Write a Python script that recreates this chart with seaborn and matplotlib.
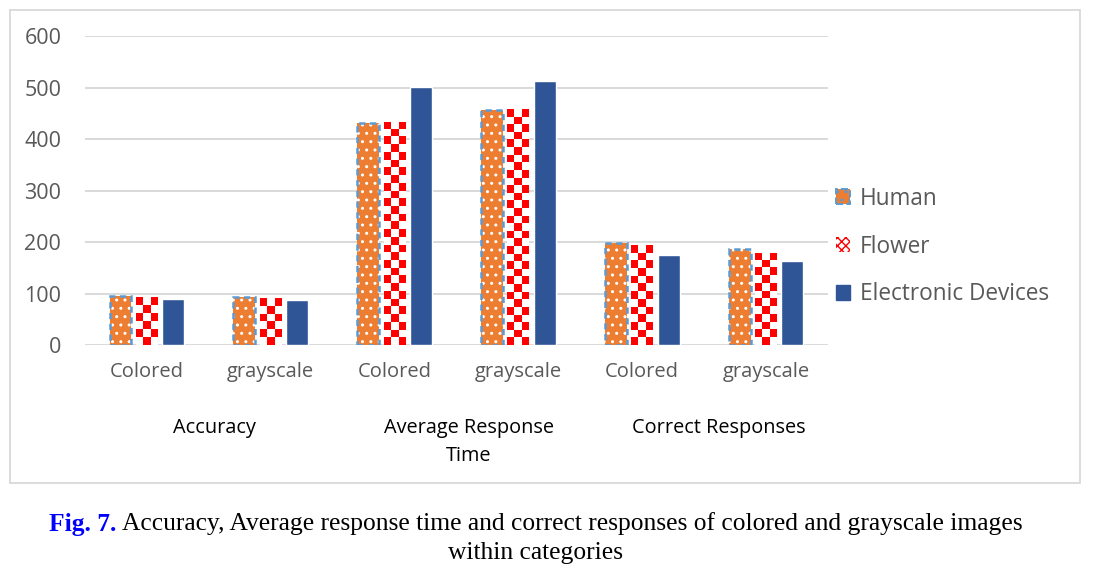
import numpy as np
import pandas as pd
import matplotlib
matplotlib.use("Agg")
import matplotlib.pyplot as plt
import matplotlib.transforms as mtransforms
from matplotlib.colors import ListedColormap
from matplotlib.patches import Rectangle, Patch
import seaborn as sns

# data
groups = ["Accuracy", "Average Response\nTime", "Correct Responses"]
modes = ["Colored", "grayscale"]
series = ["Human", "Flower", "Electronic Devices"]
human = [95, 93, 431, 456, 198, 186]
flower = [93, 91, 433, 458, 194, 179]
electronic = [89, 87, 501, 513, 175, 163]

ORANGE = "#ED7D31"
RED = "#FF0000"
NAVY = "#2F5597"
DASH_BLUE = "#5B9BD5"
GRID = "#D9D9D9"
TEXT = "#595959"

slots = [f"{g}|{m}" for g in groups for m in modes]
df = pd.DataFrame({
    "slot": slots * 3,
    "series": np.repeat(series, len(slots)),
    "value": human + flower + electronic,
})

sns.set_style("white")
plt.rcParams["font.family"] = ["Open Sans", "DejaVu Sans"]

fig = plt.figure(figsize=(10.95, 5.76), dpi=100)
ax = fig.add_axes([0.0776, 0.401, 0.6785, 0.5365])

sns.barplot(data=df, x="slot", y="value", hue="series", order=slots,
            hue_order=series, palette=[ORANGE, "white", NAVY], saturation=1,
            width=0.64, gap=0.17, legend=False, ax=ax, zorder=3)

ax.set_yticks(range(0, 601, 100))
ax.grid(axis="y", color=GRID, linewidth=1.4, zorder=0)
for s in ax.spines.values():
    s.set_visible(False)
ax.tick_params(axis="both", length=0, colors=TEXT)
ax.tick_params(axis="y", pad=17, labelsize=15.5)
ax.tick_params(axis="x", pad=12, labelsize=14.5)
ax.set_xticks(range(len(slots)))
ax.set_xticklabels(modes * len(groups))
ax.set_xlabel("")
ax.set_ylabel("")
ax.set_ylim(0, 600)
ax.set_xlim(-0.5, len(slots) - 0.5)

# textures: dotted orange with dashed outline, red/white checkerboard
human_bars, flower_bars = ax.containers[0], ax.containers[1]
for p in human_bars:
    p.set_edgecolor("white")
    p.set_linewidth(0)
    p.set_hatch("..")
    ax.add_patch(Rectangle(p.get_xy(), p.get_width(), p.get_height(),
                           fill=False, edgecolor=DASH_BLUE, linewidth=1.8,
                           linestyle=(0, (2.5, 1.8)), zorder=4))

checker = ListedColormap(["white", RED])
for p in flower_bars:
    p.set_linewidth(0)
    x0, y0 = p.get_xy()
    w, h = p.get_width(), p.get_height()
    (px0, py0), (px1, py1) = ax.transData.transform([(x0, y0), (x0 + w, y0 + h)])
    ncol = max(1, int(round((px1 - px0) / 7.5)))
    nrow = max(1, int(round((py1 - py0) / 7.6)))
    board = (np.indices((nrow, ncol)).sum(axis=0) + 1) % 2
    board = np.kron(board, np.ones((10, 10)))  # upsample so squares stay crisp
    im = ax.imshow(board, cmap=checker, vmin=0, vmax=1,
                   extent=[x0, x0 + w, y0, y0 + h], aspect="auto",
                   interpolation="nearest", origin="upper", zorder=3.5)
    im.set_clip_path(p)
ax.set_ylim(0, 600)
ax.set_xlim(-0.5, len(slots) - 0.5)

# group labels under the tick labels
trans = mtransforms.blended_transform_factory(ax.transData, fig.transFigure)
offsets = [0.55, 0.6, 0.62]
for i, g in enumerate(groups):
    ax.text(2 * i + offsets[i], 0.275, g, transform=trans, ha="center",
            va="top", color="black", fontsize=14.3, linespacing=1.55)

# legend
h_human = Patch(facecolor=ORANGE, edgecolor=DASH_BLUE, hatch="..",
                linestyle="--", linewidth=1.4)
h_flower = Patch(facecolor="white", edgecolor=RED, hatch="xxxx", linewidth=0)
h_elec = Patch(facecolor=NAVY, edgecolor=NAVY)
leg = fig.legend([h_human, h_flower, h_elec], series, loc="center left",
                 bbox_to_anchor=(0.745, 0.572), frameon=False, fontsize=16.3,
                 handlelength=0.62, handleheight=0.62, handletextpad=0.42,
                 labelspacing=1.05, labelcolor=TEXT)

# chart frame
fig.patches.append(Rectangle((10 / 1095, 1 - 483 / 576), 1070 / 1095, 473 / 576,
                             transform=fig.transFigure, fill=False,
                             edgecolor=GRID, linewidth=1.3))

# caption
serif = ["Liberation Serif", "DejaVu Serif"]
cap_size = 18.4
cap1 = "Accuracy, Average response time and correct responses of colored and grayscale images"
t = fig.text(535 / 1095, 1 - 524 / 576, "Fig. 7. " + cap1, ha="center",
             va="center", family=serif, fontsize=cap_size, color="white")
fig.canvas.draw()
bb = t.get_window_extent()
t.remove()
fx = bb.x0 / fig.bbox.width
t1 = fig.text(fx, 1 - 524 / 576, "Fig. 7.", ha="left", va="center",
              family=serif, fontsize=cap_size, color="#0000FF", fontweight="bold")
fig.canvas.draw()
bb1 = t1.get_window_extent()
fig.text(bb1.x1 / fig.bbox.width, 1 - 524 / 576, " " + cap1, ha="left",
         va="center", family=serif, fontsize=cap_size, color="black")
fig.text(535 / 1095, 1 - 553 / 576, "within categories", ha="center",
         va="center", family=serif, fontsize=cap_size, color="black")

fig.savefig("out.png", dpi=100)
